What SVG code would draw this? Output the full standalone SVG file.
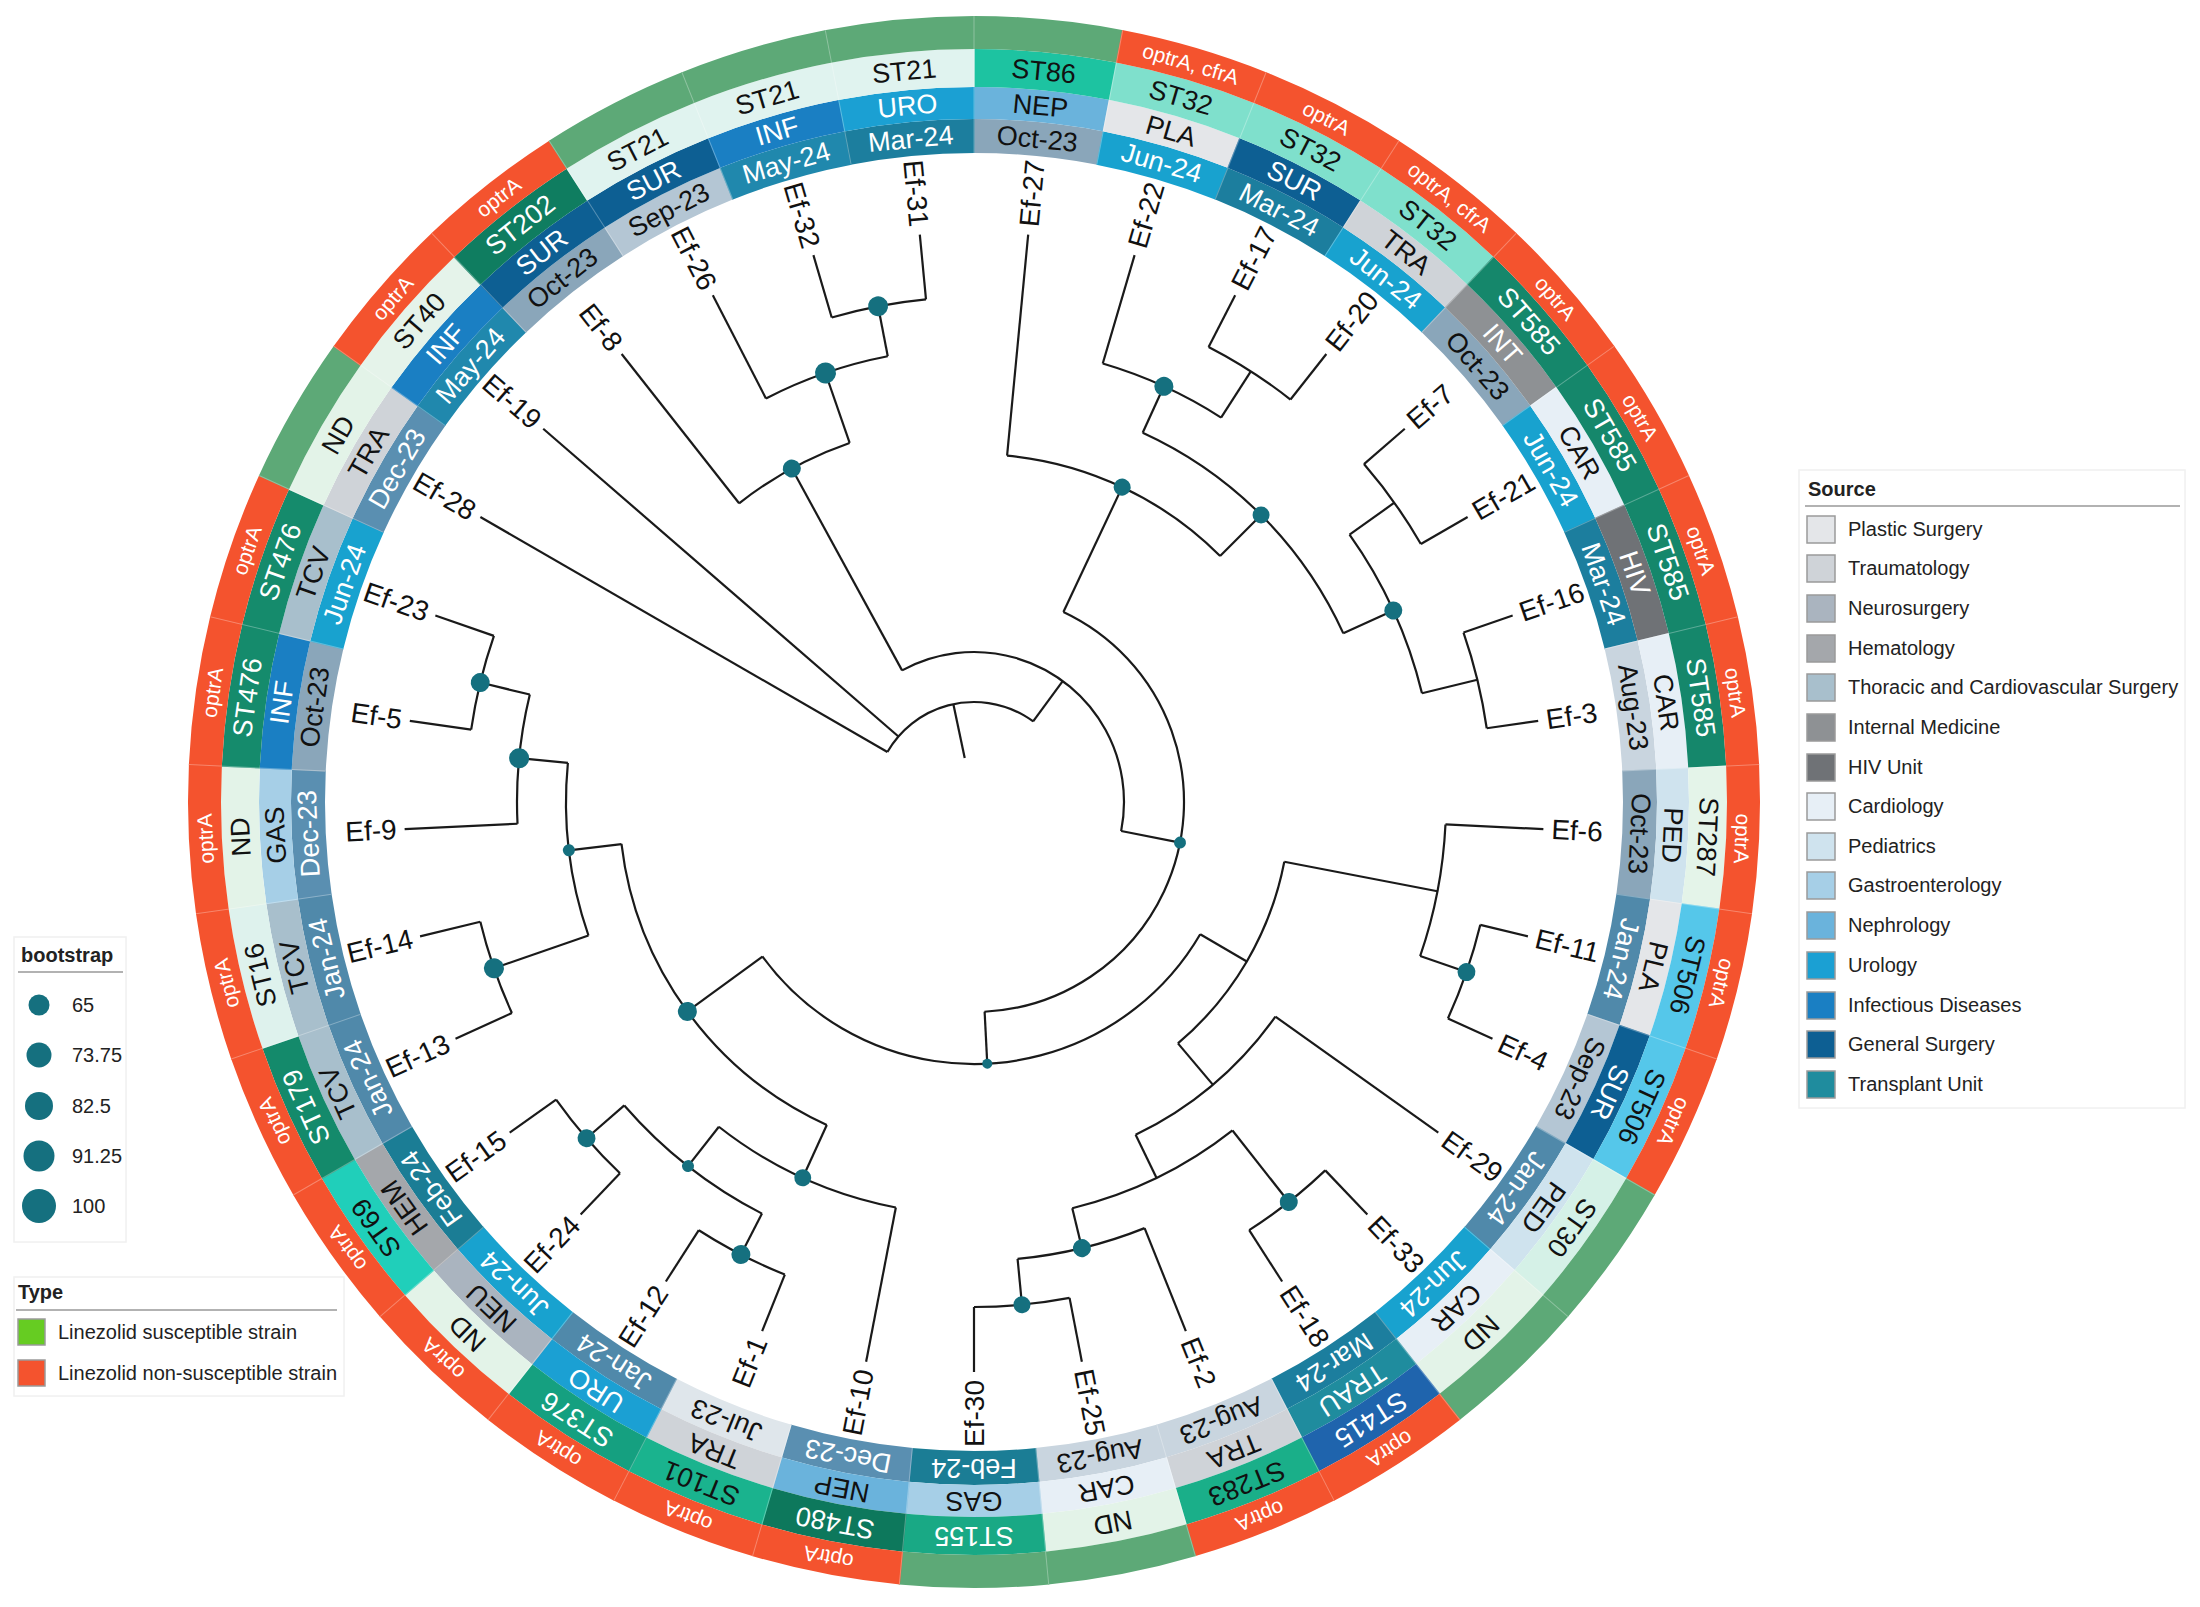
<svg xmlns="http://www.w3.org/2000/svg" xmlns:xlink="http://www.w3.org/1999/xlink" width="2200" height="1607" viewBox="0 0 2200 1607">
<style>
text{font-family:"Liberation Sans",Arial,sans-serif}
.br line,.br circle{fill:none;stroke:#1a1a1a;stroke-width:2.2}
.dot{fill:#15707f}
.lab{font-size:28px;fill:#111;dominant-baseline:central}
.labL{font-size:28px;fill:#111;dominant-baseline:central;text-anchor:end}
.rt{font-size:27px;text-anchor:middle;dominant-baseline:central}
.ot{font-size:21px;text-anchor:middle;dominant-baseline:central;fill:#fff}
.w{fill:#fff}.k{fill:#111}
.sep line{stroke:#fff;stroke-opacity:.3;stroke-width:1}
.lg{font-size:20px;fill:#222;dominant-baseline:central}
.lgt{font-size:20px;font-weight:bold;fill:#222;dominant-baseline:central}
.lbox{fill:#fff;stroke:#f0f0f0;stroke-width:1.5}
.sw{stroke:#9a9a9a;stroke-width:1.5}
.dJul23{fill:#dfe6eb}.dAug23{fill:#c9d5df}.dSep23{fill:#b4c6d4}.dOct23{fill:#8aa6ba}.dDec23{fill:#5a8fb1}.dJan24{fill:#5089aa}.dFeb24{fill:#1b7d95}.dMar24{fill:#1c7e9e}.dMay24{fill:#2088ad}.dJun24{fill:#18a2cf}
.sPLA{fill:#e4e6e9}.sTRA{fill:#cfd3d8}.sNEU{fill:#aab4bf}.sHEM{fill:#a4a7ab}.sTCV{fill:#a8bfcc}.sINT{fill:#8e9194}.sHIV{fill:#6f7276}.sCAR{fill:#e7eff6}.sPED{fill:#cfe3ee}.sGAS{fill:#a6cfe7}.sNEP{fill:#6ab3dc}.sURO{fill:#1ba0d3}.sINF{fill:#1a7fc3}.sSUR{fill:#0d5f93}.sTRAU{fill:#1f8c9e}
.cST21{fill:#e0f3ef}.cST86{fill:#1dc3a1}.cST32{fill:#7fe0cc}.cST585{fill:#15876b}.cST287{fill:#e4f4e9}.cST506{fill:#55c7ea}.cST30{fill:#d5f1e7}.cND{fill:#e3f3e8}.cST415{fill:#1f64ad}.cST283{fill:#1aaf89}.cST155{fill:#19a985}.cST480{fill:#0d785c}.cST101{fill:#1ab38e}.cST376{fill:#15a080}.cST69{fill:#20cfba}.cST179{fill:#148a6b}.cST16{fill:#def2ed}.cST476{fill:#158b6c}.cST40{fill:#e5f3ea}.cST202{fill:#0f7d60}
.yG{fill:#5da977}.yR{fill:#f4532e}
</style>
<defs>
<path id="sd" d="M-65.46,-679.86A683,683 0 0 1 65.46,-679.86L62.20,-646.01A649,649 0 0 0 -62.20,-646.01Z"/>
<path id="ss" d="M-68.53,-711.71A715,715 0 0 1 68.53,-711.71L65.46,-679.86A683,683 0 0 0 -65.46,-679.86Z"/>
<path id="st" d="M-72.17,-749.53A753,753 0 0 1 72.17,-749.53L68.53,-711.71A715,715 0 0 0 -68.53,-711.71Z"/>
<path id="sy" d="M-75.34,-782.38A786,786 0 0 1 75.34,-782.38L72.17,-749.53A753,753 0 0 0 -72.17,-749.53Z"/>
</defs>
<rect width="2200" height="1607" fill="#fff"/>
<g transform="translate(974,802)">
<g id="leaves">
<g id="Ef-27" transform="rotate(5.455)"><use href="#sd" class="dOct23"/><text y="-666" class="rt k">Oct-23</text><use href="#ss" class="sNEP"/><text y="-699" class="rt k">NEP</text><use href="#st" class="cST86"/><text y="-734" class="rt k">ST86</text><use href="#sy" class="yG"/><text class="lab" transform="rotate(-90)" x="578">Ef-27</text></g>
<g id="Ef-22" transform="rotate(16.364)"><use href="#sd" class="dJun24"/><text y="-666" class="rt w">Jun-24</text><use href="#ss" class="sPLA"/><text y="-699" class="rt k">PLA</text><use href="#st" class="cST32"/><text y="-734" class="rt k">ST32</text><use href="#sy" class="yR"/><text y="-769.5" class="ot">optrA, cfrA</text><text class="lab" transform="rotate(-90)" x="578">Ef-22</text></g>
<g id="Ef-17" transform="rotate(27.273)"><use href="#sd" class="dMar24"/><text y="-666" class="rt w">Mar-24</text><use href="#ss" class="sSUR"/><text y="-699" class="rt w">SUR</text><use href="#st" class="cST32"/><text y="-734" class="rt k">ST32</text><use href="#sy" class="yR"/><text y="-769.5" class="ot">optrA</text><text class="lab" transform="rotate(-90)" x="578">Ef-17</text></g>
<g id="Ef-20" transform="rotate(38.182)"><use href="#sd" class="dJun24"/><text y="-666" class="rt w">Jun-24</text><use href="#ss" class="sTRA"/><text y="-699" class="rt k">TRA</text><use href="#st" class="cST32"/><text y="-734" class="rt k">ST32</text><use href="#sy" class="yR"/><text y="-769.5" class="ot">optrA, cfrA</text><text class="lab" transform="rotate(-90)" x="578">Ef-20</text></g>
<g id="Ef-7" transform="rotate(49.091)"><use href="#sd" class="dOct23"/><text y="-666" class="rt k">Oct-23</text><use href="#ss" class="sINT"/><text y="-699" class="rt w">INT</text><use href="#st" class="cST585"/><text y="-734" class="rt w">ST585</text><use href="#sy" class="yR"/><text y="-769.5" class="ot">optrA</text><text class="lab" transform="rotate(-90)" x="578">Ef-7</text></g>
<g id="Ef-21" transform="rotate(60)"><use href="#sd" class="dJun24"/><text y="-666" class="rt w">Jun-24</text><use href="#ss" class="sCAR"/><text y="-699" class="rt k">CAR</text><use href="#st" class="cST585"/><text y="-734" class="rt w">ST585</text><use href="#sy" class="yR"/><text y="-769.5" class="ot">optrA</text><text class="lab" transform="rotate(-90)" x="578">Ef-21</text></g>
<g id="Ef-16" transform="rotate(70.909)"><use href="#sd" class="dMar24"/><text y="-666" class="rt w">Mar-24</text><use href="#ss" class="sHIV"/><text y="-699" class="rt w">HIV</text><use href="#st" class="cST585"/><text y="-734" class="rt w">ST585</text><use href="#sy" class="yR"/><text y="-769.5" class="ot">optrA</text><text class="lab" transform="rotate(-90)" x="578">Ef-16</text></g>
<g id="Ef-3" transform="rotate(81.818)"><use href="#sd" class="dAug23"/><text y="-666" class="rt k">Aug-23</text><use href="#ss" class="sCAR"/><text y="-699" class="rt k">CAR</text><use href="#st" class="cST585"/><text y="-734" class="rt w">ST585</text><use href="#sy" class="yR"/><text y="-769.5" class="ot">optrA</text><text class="lab" transform="rotate(-90)" x="578">Ef-3</text></g>
<g id="Ef-6" transform="rotate(92.727)"><use href="#sd" class="dOct23"/><text y="-666" class="rt k">Oct-23</text><use href="#ss" class="sPED"/><text y="-699" class="rt k">PED</text><use href="#st" class="cST287"/><text y="-734" class="rt k">ST287</text><use href="#sy" class="yR"/><text y="-769.5" class="ot">optrA</text><text class="lab" transform="rotate(-90)" x="578">Ef-6</text></g>
<g id="Ef-11" transform="rotate(103.636)"><use href="#sd" class="dJan24"/><text y="-666" class="rt w">Jan-24</text><use href="#ss" class="sPLA"/><text y="-699" class="rt k">PLA</text><use href="#st" class="cST506"/><text y="-734" class="rt k">ST506</text><use href="#sy" class="yR"/><text y="-769.5" class="ot">optrA</text><text class="lab" transform="rotate(-90)" x="578">Ef-11</text></g>
<g id="Ef-4" transform="rotate(114.545)"><use href="#sd" class="dSep23"/><text y="-666" class="rt k">Sep-23</text><use href="#ss" class="sSUR"/><text y="-699" class="rt w">SUR</text><use href="#st" class="cST506"/><text y="-734" class="rt k">ST506</text><use href="#sy" class="yR"/><text y="-769.5" class="ot">optrA</text><text class="lab" transform="rotate(-90)" x="578">Ef-4</text></g>
<g id="Ef-29" transform="rotate(125.455)"><use href="#sd" class="dJan24"/><text y="-666" class="rt w">Jan-24</text><use href="#ss" class="sPED"/><text y="-699" class="rt k">PED</text><use href="#st" class="cST30"/><text y="-734" class="rt k">ST30</text><use href="#sy" class="yG"/><text class="lab" transform="rotate(-90)" x="578">Ef-29</text></g>
<g id="Ef-33" transform="rotate(136.364)"><use href="#sd" class="dJun24"/><text y="-666" class="rt w">Jun-24</text><use href="#ss" class="sCAR"/><text y="-699" class="rt k">CAR</text><use href="#st" class="cND"/><text y="-734" class="rt k">ND</text><use href="#sy" class="yG"/><text class="lab" transform="rotate(-90)" x="578">Ef-33</text></g>
<g id="Ef-18" transform="rotate(147.273)"><use href="#sd" class="dMar24"/><text y="-666" class="rt w">Mar-24</text><use href="#ss" class="sTRAU"/><text y="-699" class="rt w">TRAU</text><use href="#st" class="cST415"/><text y="-734" class="rt w">ST415</text><use href="#sy" class="yR"/><text y="-769.5" class="ot">optrA</text><text class="lab" transform="rotate(-90)" x="578">Ef-18</text></g>
<g id="Ef-2" transform="rotate(158.182)"><use href="#sd" class="dAug23"/><text y="-666" class="rt k">Aug-23</text><use href="#ss" class="sTRA"/><text y="-699" class="rt k">TRA</text><use href="#st" class="cST283"/><text y="-734" class="rt k">ST283</text><use href="#sy" class="yR"/><text y="-769.5" class="ot">optrA</text><text class="lab" transform="rotate(-90)" x="578">Ef-2</text></g>
<g id="Ef-25" transform="rotate(169.091)"><use href="#sd" class="dAug23"/><text y="-666" class="rt k">Aug-23</text><use href="#ss" class="sCAR"/><text y="-699" class="rt k">CAR</text><use href="#st" class="cND"/><text y="-734" class="rt k">ND</text><use href="#sy" class="yG"/><text class="lab" transform="rotate(-90)" x="578">Ef-25</text></g>
<g id="Ef-30" transform="rotate(180)"><use href="#sd" class="dFeb24"/><text y="-666" class="rt w">Feb-24</text><use href="#ss" class="sGAS"/><text y="-699" class="rt k">GAS</text><use href="#st" class="cST155"/><text y="-734" class="rt w">ST155</text><use href="#sy" class="yG"/><text class="labL" transform="rotate(90)" x="-578">Ef-30</text></g>
<g id="Ef-10" transform="rotate(190.909)"><use href="#sd" class="dDec23"/><text y="-666" class="rt w">Dec-23</text><use href="#ss" class="sNEP"/><text y="-699" class="rt k">NEP</text><use href="#st" class="cST480"/><text y="-734" class="rt w">ST480</text><use href="#sy" class="yR"/><text y="-769.5" class="ot">optrA</text><text class="labL" transform="rotate(90)" x="-578">Ef-10</text></g>
<g id="Ef-1" transform="rotate(201.818)"><use href="#sd" class="dJul23"/><text y="-666" class="rt k">Jul-23</text><use href="#ss" class="sTRA"/><text y="-699" class="rt k">TRA</text><use href="#st" class="cST101"/><text y="-734" class="rt k">ST101</text><use href="#sy" class="yR"/><text y="-769.5" class="ot">optrA</text><text class="labL" transform="rotate(90)" x="-578">Ef-1</text></g>
<g id="Ef-12" transform="rotate(212.727)"><use href="#sd" class="dJan24"/><text y="-666" class="rt w">Jan-24</text><use href="#ss" class="sURO"/><text y="-699" class="rt w">URO</text><use href="#st" class="cST376"/><text y="-734" class="rt w">ST376</text><use href="#sy" class="yR"/><text y="-769.5" class="ot">optrA</text><text class="labL" transform="rotate(90)" x="-578">Ef-12</text></g>
<g id="Ef-24" transform="rotate(223.636)"><use href="#sd" class="dJun24"/><text y="-666" class="rt w">Jun-24</text><use href="#ss" class="sNEU"/><text y="-699" class="rt k">NEU</text><use href="#st" class="cND"/><text y="-734" class="rt k">ND</text><use href="#sy" class="yR"/><text y="-769.5" class="ot">optrA</text><text class="labL" transform="rotate(90)" x="-578">Ef-24</text></g>
<g id="Ef-15" transform="rotate(234.545)"><use href="#sd" class="dFeb24"/><text y="-666" class="rt w">Feb-24</text><use href="#ss" class="sHEM"/><text y="-699" class="rt k">HEM</text><use href="#st" class="cST69"/><text y="-734" class="rt k">ST69</text><use href="#sy" class="yR"/><text y="-769.5" class="ot">optrA</text><text class="labL" transform="rotate(90)" x="-578">Ef-15</text></g>
<g id="Ef-13" transform="rotate(245.455)"><use href="#sd" class="dJan24"/><text y="-666" class="rt w">Jan-24</text><use href="#ss" class="sTCV"/><text y="-699" class="rt k">TCV</text><use href="#st" class="cST179"/><text y="-734" class="rt w">ST179</text><use href="#sy" class="yR"/><text y="-769.5" class="ot">optrA</text><text class="labL" transform="rotate(90)" x="-578">Ef-13</text></g>
<g id="Ef-14" transform="rotate(256.364)"><use href="#sd" class="dJan24"/><text y="-666" class="rt w">Jan-24</text><use href="#ss" class="sTCV"/><text y="-699" class="rt k">TCV</text><use href="#st" class="cST16"/><text y="-734" class="rt k">ST16</text><use href="#sy" class="yR"/><text y="-769.5" class="ot">optrA</text><text class="labL" transform="rotate(90)" x="-578">Ef-14</text></g>
<g id="Ef-9" transform="rotate(267.273)"><use href="#sd" class="dDec23"/><text y="-666" class="rt w">Dec-23</text><use href="#ss" class="sGAS"/><text y="-699" class="rt k">GAS</text><use href="#st" class="cND"/><text y="-734" class="rt k">ND</text><use href="#sy" class="yR"/><text y="-769.5" class="ot">optrA</text><text class="labL" transform="rotate(90)" x="-578">Ef-9</text></g>
<g id="Ef-5" transform="rotate(278.182)"><use href="#sd" class="dOct23"/><text y="-666" class="rt k">Oct-23</text><use href="#ss" class="sINF"/><text y="-699" class="rt w">INF</text><use href="#st" class="cST476"/><text y="-734" class="rt w">ST476</text><use href="#sy" class="yR"/><text y="-769.5" class="ot">optrA</text><text class="labL" transform="rotate(90)" x="-578">Ef-5</text></g>
<g id="Ef-23" transform="rotate(289.091)"><use href="#sd" class="dJun24"/><text y="-666" class="rt w">Jun-24</text><use href="#ss" class="sTCV"/><text y="-699" class="rt k">TCV</text><use href="#st" class="cST476"/><text y="-734" class="rt w">ST476</text><use href="#sy" class="yR"/><text y="-769.5" class="ot">optrA</text><text class="labL" transform="rotate(90)" x="-578">Ef-23</text></g>
<g id="Ef-28" transform="rotate(300)"><use href="#sd" class="dDec23"/><text y="-666" class="rt w">Dec-23</text><use href="#ss" class="sTRA"/><text y="-699" class="rt k">TRA</text><use href="#st" class="cND"/><text y="-734" class="rt k">ND</text><use href="#sy" class="yG"/><text class="labL" transform="rotate(90)" x="-578">Ef-28</text></g>
<g id="Ef-19" transform="rotate(310.909)"><use href="#sd" class="dMay24"/><text y="-666" class="rt w">May-24</text><use href="#ss" class="sINF"/><text y="-699" class="rt w">INF</text><use href="#st" class="cST40"/><text y="-734" class="rt k">ST40</text><use href="#sy" class="yR"/><text y="-769.5" class="ot">optrA</text><text class="labL" transform="rotate(90)" x="-578">Ef-19</text></g>
<g id="Ef-8" transform="rotate(321.818)"><use href="#sd" class="dOct23"/><text y="-666" class="rt k">Oct-23</text><use href="#ss" class="sSUR"/><text y="-699" class="rt w">SUR</text><use href="#st" class="cST202"/><text y="-734" class="rt w">ST202</text><use href="#sy" class="yR"/><text y="-769.5" class="ot">optrA</text><text class="labL" transform="rotate(90)" x="-578">Ef-8</text></g>
<g id="Ef-26" transform="rotate(332.727)"><use href="#sd" class="dSep23"/><text y="-666" class="rt k">Sep-23</text><use href="#ss" class="sSUR"/><text y="-699" class="rt w">SUR</text><use href="#st" class="cST21"/><text y="-734" class="rt k">ST21</text><use href="#sy" class="yG"/><text class="labL" transform="rotate(90)" x="-578">Ef-26</text></g>
<g id="Ef-32" transform="rotate(343.636)"><use href="#sd" class="dMay24"/><text y="-666" class="rt w">May-24</text><use href="#ss" class="sINF"/><text y="-699" class="rt w">INF</text><use href="#st" class="cST21"/><text y="-734" class="rt k">ST21</text><use href="#sy" class="yG"/><text class="labL" transform="rotate(90)" x="-578">Ef-32</text></g>
<g id="Ef-31" transform="rotate(354.545)"><use href="#sd" class="dMar24"/><text y="-666" class="rt w">Mar-24</text><use href="#ss" class="sURO"/><text y="-699" class="rt w">URO</text><use href="#st" class="cST21"/><text y="-734" class="rt k">ST21</text><use href="#sy" class="yG"/><text class="labL" transform="rotate(90)" x="-578">Ef-31</text></g>
</g>
<g class="sep">
<line y1="-649" y2="-786"/><line y1="-649" y2="-786" transform="rotate(10.909)"/><line y1="-649" y2="-786" transform="rotate(21.818)"/><line y1="-649" y2="-786" transform="rotate(32.727)"/><line y1="-649" y2="-786" transform="rotate(43.636)"/><line y1="-649" y2="-786" transform="rotate(54.545)"/><line y1="-649" y2="-786" transform="rotate(65.455)"/><line y1="-649" y2="-786" transform="rotate(76.364)"/><line y1="-649" y2="-786" transform="rotate(87.273)"/><line y1="-649" y2="-786" transform="rotate(98.182)"/><line y1="-649" y2="-786" transform="rotate(109.091)"/><line y1="-649" y2="-786" transform="rotate(120)"/><line y1="-649" y2="-786" transform="rotate(130.909)"/><line y1="-649" y2="-786" transform="rotate(141.818)"/><line y1="-649" y2="-786" transform="rotate(152.727)"/><line y1="-649" y2="-786" transform="rotate(163.636)"/><line y1="-649" y2="-786" transform="rotate(174.545)"/><line y1="-649" y2="-786" transform="rotate(185.455)"/><line y1="-649" y2="-786" transform="rotate(196.364)"/><line y1="-649" y2="-786" transform="rotate(207.273)"/><line y1="-649" y2="-786" transform="rotate(218.182)"/><line y1="-649" y2="-786" transform="rotate(229.091)"/><line y1="-649" y2="-786" transform="rotate(240)"/><line y1="-649" y2="-786" transform="rotate(250.909)"/><line y1="-649" y2="-786" transform="rotate(261.818)"/><line y1="-649" y2="-786" transform="rotate(272.727)"/><line y1="-649" y2="-786" transform="rotate(283.636)"/><line y1="-649" y2="-786" transform="rotate(294.545)"/><line y1="-649" y2="-786" transform="rotate(305.455)"/><line y1="-649" y2="-786" transform="rotate(316.364)"/><line y1="-649" y2="-786" transform="rotate(327.273)"/><line y1="-649" y2="-786" transform="rotate(338.182)"/><line y1="-649" y2="-786" transform="rotate(349.091)"/>
</g>
<g id="branches" class="br">
<circle r="100" stroke-dasharray="167.99 5000" transform="rotate(210)"/>
<circle r="150" stroke-dasharray="339.82 5000" transform="rotate(241.35)"/>
<circle r="380" stroke-dasharray="126.54 5000" transform="rotate(231.818)"/>
<circle r="454" stroke-dasharray="129.32 5000" transform="rotate(242.727)"/>
<circle r="505" stroke-dasharray="96.15 5000" transform="rotate(253.636)"/>
<circle r="210" stroke-dasharray="556.75 5000" transform="rotate(-64.8)"/>
<circle r="348" stroke-dasharray="240.18 5000" transform="rotate(-84.545)"/>
<circle r="406" stroke-dasharray="289.82 5000" transform="rotate(-65.45)"/>
<circle r="457" stroke-dasharray="130.54 5000" transform="rotate(-73.636)"/>
<circle r="512" stroke-dasharray="97.48 5000" transform="rotate(-62.727)"/>
<circle r="461" stroke-dasharray="175.40 5000" transform="rotate(-35.45)"/>
<circle r="516" stroke-dasharray="98.24 5000" transform="rotate(-40.909)"/>
<circle r="518" stroke-dasharray="98.63 5000" transform="rotate(-19.091)"/>
<circle r="262" stroke-dasharray="519.24 5000" transform="rotate(30.3)"/>
<circle r="316" stroke-dasharray="214.54 5000" transform="rotate(10.9)"/>
<circle r="472" stroke-dasharray="134.44 5000" transform="rotate(2.727)"/>
<circle r="521" stroke-dasharray="99.20 5000" transform="rotate(13.636)"/>
<circle r="370" stroke-dasharray="184.98 5000" transform="rotate(35.455)"/>
<circle r="418" stroke-dasharray="179.47 5000" transform="rotate(51.8)"/>
<circle r="509" stroke-dasharray="96.91 5000" transform="rotate(46.364)"/>
<circle r="459" stroke-dasharray="131.14 5000" transform="rotate(68.182)"/>
<circle r="505" stroke-dasharray="96.15 5000" transform="rotate(79.091)"/>
<circle r="355" stroke-dasharray="363.70 5000" transform="rotate(114.5)"/>
<circle r="408" stroke-dasharray="175.17 5000" transform="rotate(160.9)"/>
<circle r="457" stroke-dasharray="130.25 5000" transform="rotate(177.273)"/>
<circle r="508" stroke-dasharray="96.72 5000" transform="rotate(188.182)"/>
<circle r="508" stroke-dasharray="96.72 5000" transform="rotate(155.455)"/>
<circle r="413" stroke-dasharray="196.35 5000" transform="rotate(100.909)"/>
<circle r="463" stroke-dasharray="176.16 5000" transform="rotate(117.25)"/>
<circle r="513" stroke-dasharray="97.67 5000" transform="rotate(133.636)"/>
<circle r="509" stroke-dasharray="96.91 5000" transform="rotate(111.818)"/>
<line y1="-45" y2="-100" transform="rotate(348.1)"/>
<line y1="-100" y2="-570" transform="rotate(300)"/>
<line y1="-100" y2="-570" transform="rotate(310.909)"/>
<line y1="-100" y2="-150" transform="rotate(36.25)"/>
<line y1="-150" y2="-380" transform="rotate(331.35)"/>
<line y1="-150" y2="-210" transform="rotate(101.15)"/>
<line y1="-380" y2="-570" transform="rotate(321.818)"/>
<line y1="-380" y2="-454" transform="rotate(340.9)"/>
<line y1="-454" y2="-570" transform="rotate(332.727)"/>
<line y1="-454" y2="-505" transform="rotate(349.05)"/>
<line y1="-505" y2="-570" transform="rotate(343.636)"/>
<line y1="-505" y2="-570" transform="rotate(354.545)"/>
<line y1="-210" y2="-348" transform="rotate(25.2)"/>
<line y1="-210" y2="-262" transform="rotate(177.1)"/>
<line y1="-348" y2="-570" transform="rotate(5.455)"/>
<line y1="-348" y2="-406" transform="rotate(45)"/>
<line y1="-406" y2="-457" transform="rotate(24.55)"/>
<line y1="-406" y2="-461" transform="rotate(65.45)"/>
<line y1="-457" y2="-570" transform="rotate(16.364)"/>
<line y1="-457" y2="-512" transform="rotate(32.73)"/>
<line y1="-512" y2="-570" transform="rotate(27.273)"/>
<line y1="-512" y2="-570" transform="rotate(38.182)"/>
<line y1="-461" y2="-516" transform="rotate(54.55)"/>
<line y1="-461" y2="-518" transform="rotate(76.35)"/>
<line y1="-516" y2="-570" transform="rotate(49.091)"/>
<line y1="-516" y2="-570" transform="rotate(60)"/>
<line y1="-518" y2="-570" transform="rotate(70.909)"/>
<line y1="-518" y2="-570" transform="rotate(81.818)"/>
<line y1="-262" y2="-316" transform="rotate(120.3)"/>
<line y1="-262" y2="-355" transform="rotate(233.85)"/>
<line y1="-316" y2="-472" transform="rotate(100.9)"/>
<line y1="-316" y2="-370" transform="rotate(139.8)"/>
<line y1="-472" y2="-570" transform="rotate(92.727)"/>
<line y1="-472" y2="-521" transform="rotate(109.05)"/>
<line y1="-521" y2="-570" transform="rotate(103.636)"/>
<line y1="-521" y2="-570" transform="rotate(114.545)"/>
<line y1="-370" y2="-570" transform="rotate(125.455)"/>
<line y1="-370" y2="-418" transform="rotate(154.1)"/>
<line y1="-418" y2="-509" transform="rotate(141.8)"/>
<line y1="-418" y2="-459" transform="rotate(166.4)"/>
<line y1="-509" y2="-570" transform="rotate(136.364)"/>
<line y1="-509" y2="-570" transform="rotate(147.273)"/>
<line y1="-459" y2="-570" transform="rotate(158.182)"/>
<line y1="-459" y2="-505" transform="rotate(174.55)"/>
<line y1="-505" y2="-570" transform="rotate(169.091)"/>
<line y1="-505" y2="-570" transform="rotate(180)"/>
<line y1="-355" y2="-413" transform="rotate(204.5)"/>
<line y1="-355" y2="-408" transform="rotate(263.2)"/>
<line y1="-408" y2="-508" transform="rotate(250.9)"/>
<line y1="-408" y2="-457" transform="rotate(275.5)"/>
<line y1="-457" y2="-570" transform="rotate(267.273)"/>
<line y1="-457" y2="-508" transform="rotate(283.6)"/>
<line y1="-508" y2="-570" transform="rotate(278.182)"/>
<line y1="-508" y2="-570" transform="rotate(289.091)"/>
<line y1="-508" y2="-570" transform="rotate(245.455)"/>
<line y1="-508" y2="-570" transform="rotate(256.364)"/>
<line y1="-413" y2="-570" transform="rotate(190.909)"/>
<line y1="-413" y2="-463" transform="rotate(218.15)"/>
<line y1="-463" y2="-509" transform="rotate(207.25)"/>
<line y1="-463" y2="-513" transform="rotate(229.05)"/>
<line y1="-513" y2="-570" transform="rotate(223.636)"/>
<line y1="-513" y2="-570" transform="rotate(234.545)"/>
<line y1="-509" y2="-570" transform="rotate(201.818)"/>
<line y1="-509" y2="-570" transform="rotate(212.727)"/>
</g>
<g id="bootstrap-points" class="dot">
<circle cy="-505" r="10" transform="rotate(349.05)"/>
<circle cy="-454" r="10.5" transform="rotate(340.9)"/>
<circle cy="-380" r="9" transform="rotate(331.35)"/>
<circle cy="-348" r="8.5" transform="rotate(25.2)"/>
<circle cy="-457" r="9.5" transform="rotate(24.55)"/>
<circle cy="-406" r="8.5" transform="rotate(45)"/>
<circle cy="-461" r="9" transform="rotate(65.45)"/>
<circle cy="-210" r="6" transform="rotate(101.15)"/>
<circle cy="-262" r="5" transform="rotate(177.1)"/>
<circle cy="-521" r="9" transform="rotate(109.05)"/>
<circle cy="-509" r="9" transform="rotate(141.8)"/>
<circle cy="-459" r="9" transform="rotate(166.4)"/>
<circle cy="-505" r="8.5" transform="rotate(174.55)"/>
<circle cy="-355" r="9.5" transform="rotate(233.85)"/>
<circle cy="-408" r="6" transform="rotate(263.2)"/>
<circle cy="-457" r="10" transform="rotate(275.5)"/>
<circle cy="-508" r="9.5" transform="rotate(283.6)"/>
<circle cy="-508" r="10" transform="rotate(250.9)"/>
<circle cy="-413" r="8.5" transform="rotate(204.5)"/>
<circle cy="-463" r="6" transform="rotate(218.15)"/>
<circle cy="-513" r="9" transform="rotate(229.05)"/>
<circle cy="-509" r="9.5" transform="rotate(207.25)"/>
</g>
</g>
<g id="legend-bootstrap">
<rect class="lbox" x="14" y="937" width="112" height="305"/>
<text class="lgt" x="21" y="955">bootstrap</text>
<line x1="18" y1="972" x2="123" y2="972" stroke="#999" stroke-width="1.5"/>
<g class="dot"><circle cx="39" cy="1005" r="10.5"/><circle cx="39" cy="1055" r="12.5"/><circle cx="39" cy="1106" r="14"/><circle cx="39" cy="1156" r="15.5"/><circle cx="39" cy="1206" r="17"/></g>
<text class="lg" x="72" y="1005">65</text><text class="lg" x="72" y="1055">73.75</text><text class="lg" x="72" y="1106">82.5</text><text class="lg" x="72" y="1156">91.25</text><text class="lg" x="72" y="1206">100</text>
</g>
<g id="legend-type">
<rect class="lbox" x="14" y="1277" width="330" height="119"/>
<text class="lgt" x="18" y="1292">Type</text>
<line x1="16" y1="1310" x2="337" y2="1310" stroke="#999" stroke-width="1.5"/>
<rect class="sw" x="18" y="1319" width="27" height="26" fill="#66cc22"/>
<rect class="sw" x="18" y="1360" width="27" height="26" fill="#f4532e"/>
<text class="lg" x="58" y="1332">Linezolid susceptible strain</text>
<text class="lg" x="58" y="1373">Linezolid non-susceptible strain</text>
</g>
<g id="legend-source">
<rect class="lbox" x="1799" y="470" width="386" height="638"/>
<text class="lgt" x="1808" y="489">Source</text>
<line x1="1805" y1="506" x2="2180" y2="506" stroke="#999" stroke-width="1.5"/>
<rect class="sw sPLA" x="1807" y="516" width="28" height="27"/><text class="lg" x="1848" y="529">Plastic Surgery</text>
<rect class="sw sTRA" x="1807" y="555" width="28" height="27"/><text class="lg" x="1848" y="568">Traumatology</text>
<rect class="sw sNEU" x="1807" y="595" width="28" height="27"/><text class="lg" x="1848" y="608">Neurosurgery</text>
<rect class="sw sHEM" x="1807" y="635" width="28" height="27"/><text class="lg" x="1848" y="648">Hematology</text>
<rect class="sw sTCV" x="1807" y="674" width="28" height="27"/><text class="lg" x="1848" y="687">Thoracic and Cardiovascular Surgery</text>
<rect class="sw sINT" x="1807" y="714" width="28" height="27"/><text class="lg" x="1848" y="727">Internal Medicine</text>
<rect class="sw sHIV" x="1807" y="754" width="28" height="27"/><text class="lg" x="1848" y="767">HIV Unit</text>
<rect class="sw sCAR" x="1807" y="793" width="28" height="27"/><text class="lg" x="1848" y="806">Cardiology</text>
<rect class="sw sPED" x="1807" y="833" width="28" height="27"/><text class="lg" x="1848" y="846">Pediatrics</text>
<rect class="sw sGAS" x="1807" y="872" width="28" height="27"/><text class="lg" x="1848" y="885">Gastroenterology</text>
<rect class="sw sNEP" x="1807" y="912" width="28" height="27"/><text class="lg" x="1848" y="925">Nephrology</text>
<rect class="sw sURO" x="1807" y="952" width="28" height="27"/><text class="lg" x="1848" y="965">Urology</text>
<rect class="sw sINF" x="1807" y="992" width="28" height="27"/><text class="lg" x="1848" y="1005">Infectious Diseases</text>
<rect class="sw sSUR" x="1807" y="1031" width="28" height="27"/><text class="lg" x="1848" y="1044">General Surgery</text>
<rect class="sw sTRAU" x="1807" y="1071" width="28" height="27"/><text class="lg" x="1848" y="1084">Transplant Unit</text>
</g>
</svg>
